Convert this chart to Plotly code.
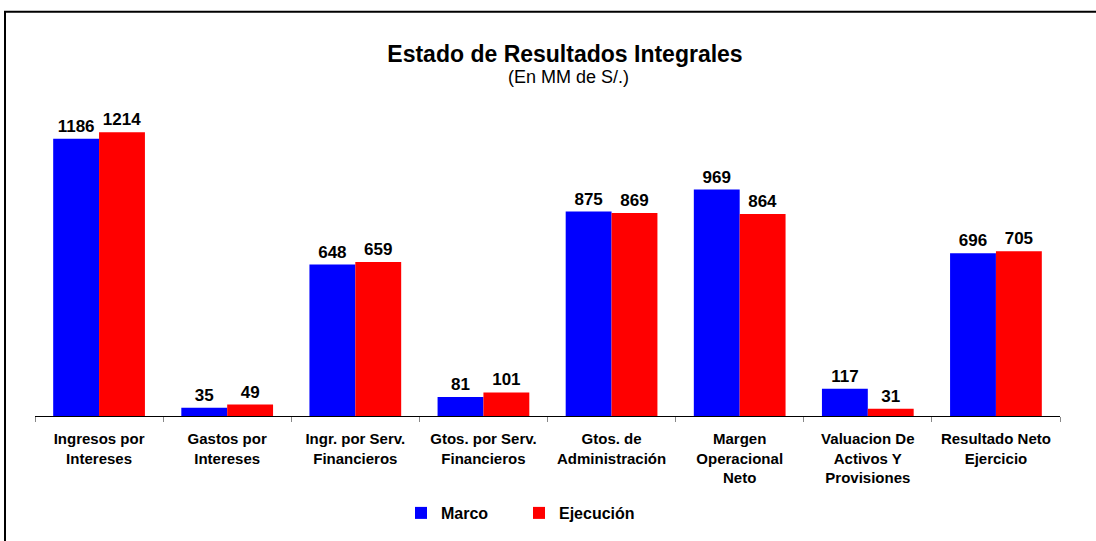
import plotly.graph_objects as go

# datos (MM de S/.)
categorias = [
    "Ingresos por<br>Intereses",
    "Gastos por<br>Intereses",
    "Ingr. por Serv.<br>Financieros",
    "Gtos. por Serv.<br>Financieros",
    "Gtos. de<br>Administración",
    "Margen<br>Operacional<br>Neto",
    "Valuacion De<br>Activos Y<br>Provisiones",
    "Resultado Neto<br>Ejercicio",
]
marco = [1186, 35, 648, 81, 875, 969, 117, 696]
ejecucion = [1214, 49, 659, 101, 869, 864, 31, 705]

W, H = 1096, 541
ML, MR, MT, MB = 35, 36, 120, 124
PW, PH = W - ML - MR, H - MT - MB
FONT = "Arial, Liberation Sans, sans-serif"


def px_x(x):
    # pixel -> paper (horizontal)
    return (x - ML) / PW


def px_y(y):
    # pixel -> paper (vertical)
    return (H - MB - y) / PH


fig = go.Figure()

fig.add_trace(go.Bar(
    x=categorias, y=marco, name="Marco",
    marker=dict(color="#0000FF", line=dict(width=0)),
    text=marco, textposition="outside", constraintext="none",
    cliponaxis=False,
    textfont=dict(family=FONT, size=17, color="black", weight="bold"),
))
fig.add_trace(go.Bar(
    x=categorias, y=ejecucion, name="Ejecución",
    marker=dict(color="#FF0000", line=dict(width=0)),
    text=ejecucion, textposition="outside", constraintext="none",
    cliponaxis=False,
    textfont=dict(family=FONT, size=17, color="black", weight="bold"),
))

# marco exterior (solo se ven los bordes superior e izquierdo)
fig.add_shape(type="rect", xref="paper", yref="paper",
              x0=px_x(5), x1=px_x(W + 20), y0=px_y(H + 20), y1=px_y(11.5),
              line=dict(color="black", width=2), layer="below")

fig.add_annotation(
    text="(En MM de S/.)", xref="paper", yref="paper",
    x=px_x(568), y=px_y(76.5), xanchor="center", yanchor="middle",
    showarrow=False, font=dict(family=FONT, size=18, color="black"),
)

fig.update_layout(
    width=W, height=H,
    margin=dict(l=ML, r=MR, t=MT, b=MB),
    title=dict(
        text="Estado de Resultados Integrales",
        xref="paper", x=px_x(565), xanchor="center",
        yref="container", y=1 - 54 / H, yanchor="middle",
        font=dict(family=FONT, size=23, color="black", weight="bold"),
    ),
    barmode="group",
    bargap=0.284,
    bargroupgap=0,
    plot_bgcolor="white",
    paper_bgcolor="white",
    showlegend=True,
    legend=dict(
        orientation="h",
        x=px_x(401), xanchor="left",
        y=px_y(513), yanchor="middle",
        font=dict(family=FONT, size=16, color="black", weight="bold"),
        entrywidth=73,
        bgcolor="rgba(0,0,0,0)",
    ),
    xaxis=dict(
        showline=True, linecolor="black", linewidth=1,
        ticks="outside", tickson="boundaries", ticklen=5,
        tickcolor="#888888", tickwidth=1,
        ticklabelstandoff=9,
        tickfont=dict(family=FONT, size=15, color="black", weight="bold"),
        showgrid=False, zeroline=False,
    ),
    yaxis=dict(
        range=[0, PH / 0.2345],
        visible=False,
    ),
)

fig.write_html("out.html", config={"displayModeBar": False},
               post_script="document.body.style.margin='0';")
